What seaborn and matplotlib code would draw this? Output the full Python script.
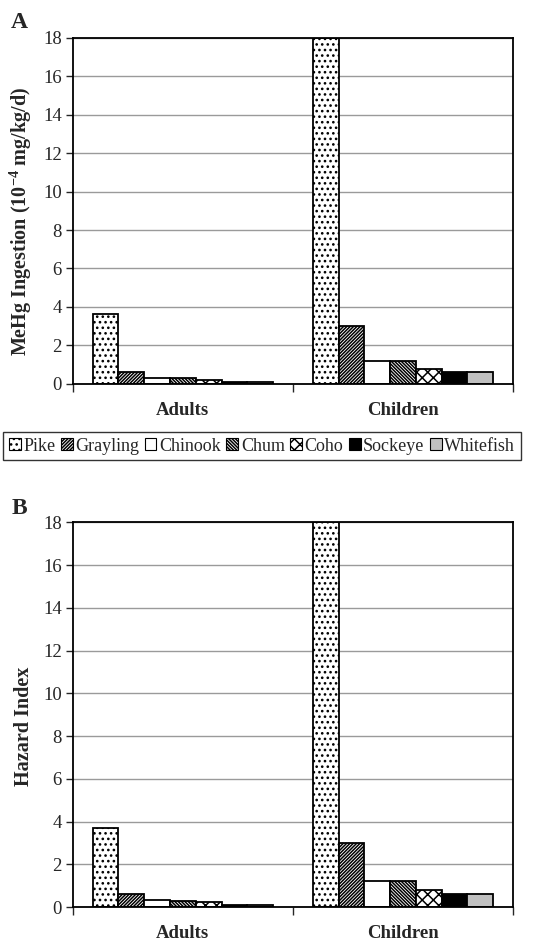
import matplotlib
matplotlib.use("Agg")
import matplotlib.pyplot as plt
import matplotlib.patches as mpatches
import seaborn as sns
import pandas as pd

groups = ["Adults", "Children"]
fish = ["Pike", "Grayling", "Chinook", "Chum", "Coho", "Sockeye", "Whitefish"]

# MeHg ingestion (10^-4 mg/kg/d)
ingest_adults = [3.65, 0.6, 0.3, 0.3, 0.18, 0.1, 0.1]
ingest_children = [18.0, 3.0, 1.2, 1.2, 0.8, 0.6, 0.6]

# Hazard index
hazard_adults = [3.7, 0.6, 0.35, 0.3, 0.22, 0.1, 0.12]
hazard_children = [18.0, 3.0, 1.2, 1.2, 0.8, 0.6, 0.6]

fills = ["white", "white", "white", "white", "white", "black", "#c0c0c0"]
hatches = ["...", "/" * 10, "", "\\" * 10, "xxx", "", ""]

sns.set_style("white")
plt.rcParams["font.family"] = ["Liberation Serif", "DejaVu Serif"]
plt.rcParams["mathtext.fontset"] = "custom"
plt.rcParams["mathtext.rm"] = "Liberation Serif"
plt.rcParams["mathtext.bf"] = "Liberation Serif:bold"
plt.rcParams["hatch.linewidth"] = 1.1
plt.rcParams["hatch.color"] = "black"


def make_df(adults, children):
    rows = []
    for g, vals in zip(groups, [adults, children]):
        for f, v in zip(fish, vals):
            rows.append({"group": g, "fish": f, "value": v})
    return pd.DataFrame(rows)


def draw_panel(ax, df, ylabel):
    sns.barplot(data=df, x="group", y="value", hue="fish", order=groups,
                hue_order=fish, width=0.82, edgecolor="black", linewidth=1.3,
                legend=False, ax=ax, errorbar=None)
    for cont, fc, h in zip(ax.containers, fills, hatches):
        for bar in cont:
            bar.set_facecolor(fc)
            bar.set_hatch(h)
    ax.set_ylim(0, 18)
    ax.set_xlim(-0.5, 1.5)
    ax.set_yticks(range(0, 19, 2))
    ax.yaxis.grid(True, color="#9a9a9a", linewidth=1)
    ax.set_axisbelow(True)
    for s in ax.spines.values():
        s.set_color("black")
        s.set_linewidth(1.3)
    ax.tick_params(axis="y", length=5, width=1, direction="out", labelsize=13.5,
                   left=True, pad=3)
    ax.set_xticks([0, 1])
    ax.set_xticklabels(groups, fontweight="bold", fontsize=13.5)
    ax.set_xticks([-0.5, 0.5, 1.5], minor=True)
    ax.tick_params(axis="x", which="major", length=0, pad=13)
    ax.tick_params(axis="x", which="minor", length=6, width=1, direction="out",
                   bottom=True)
    ax.set_xlabel("")
    ax.set_ylabel(ylabel, fontweight="bold", fontsize=14.5)
    ax.yaxis.set_label_coords(-0.088, 0.47)


fig = plt.figure(figsize=(5.36, 9.41), dpi=100)
ax1 = fig.add_axes([0.136, 0.592, 0.821, 0.368])
ax2 = fig.add_axes([0.136, 0.036, 0.821, 0.409])

draw_panel(ax1, make_df(ingest_adults, ingest_children),
           "MeHg Ingestion (10$^{\\mathbf{-4}}$ mg/kg/d)")
draw_panel(ax2, make_df(hazard_adults, hazard_children), "Hazard Index")

fig.text(0.021, 1 - 22 / 941, "A", fontsize=17, fontweight="bold", va="center")
fig.text(0.021, 1 - 509 / 941, "B", fontsize=17, fontweight="bold", va="center")

handles = [mpatches.Patch(facecolor=fc, edgecolor="black", hatch=h, linewidth=0.8)
           for fc, h in zip(fills, hatches)]
leg = fig.legend(handles, fish, loc="center", bbox_to_anchor=(0.489, 0.526),
                 ncol=7, fontsize=13, frameon=True, fancybox=False,
                 handlelength=0.65, handleheight=0.65, handletextpad=0.15,
                 columnspacing=0.3, borderpad=0.3, borderaxespad=0)
leg.get_frame().set_edgecolor("black")
leg.get_frame().set_linewidth(1)

fig.savefig("out.png", dpi=100)
